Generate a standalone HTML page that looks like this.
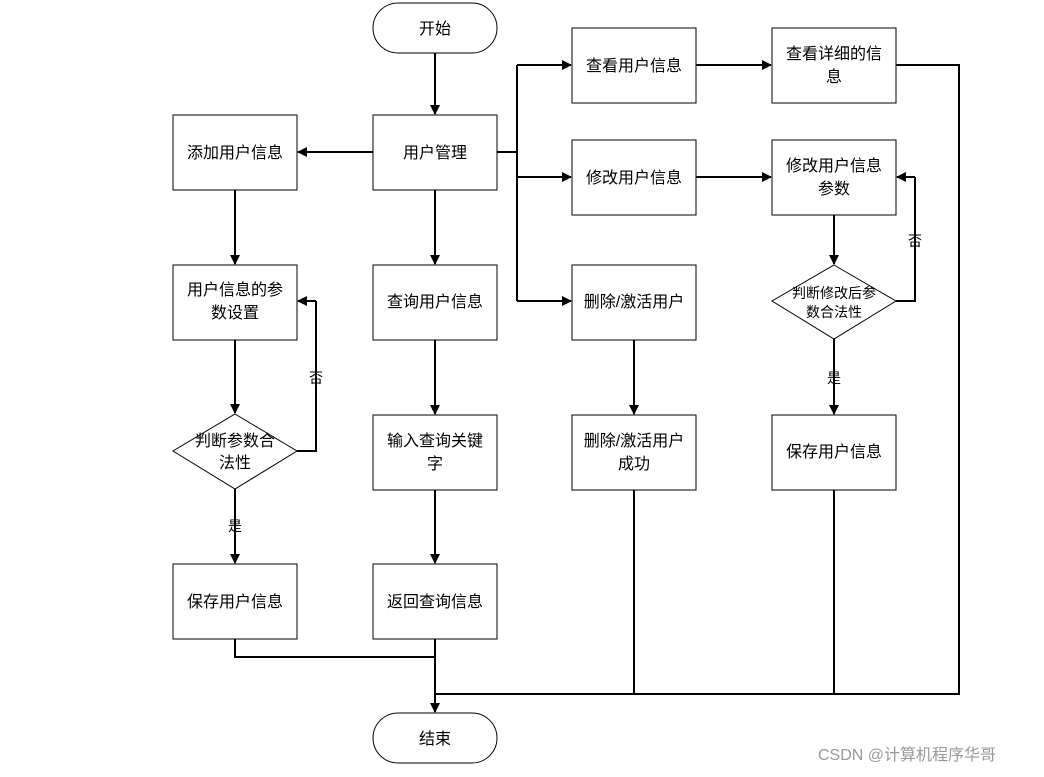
<!DOCTYPE html>
<html><head><meta charset="utf-8"><style>
body{margin:0;background:#fff;}
svg text{font-family:"Liberation Sans","Noto Sans CJK SC",sans-serif;font-size:16px;fill:#000;}
</style></head><body>
<svg width="1044" height="772" viewBox="0 0 1044 772" xmlns="http://www.w3.org/2000/svg">
<defs><marker id="a" markerWidth="10" markerHeight="10" refX="9" refY="5" orient="auto" markerUnits="userSpaceOnUse"><path d="M0,0 L10,5 L0,10 z" fill="#000"/></marker></defs>
<g fill="#fff" stroke="#000" stroke-width="1">
<rect x="373" y="3" width="124" height="50" rx="25"/>
<rect x="373" y="713" width="124" height="50" rx="25"/>
<rect x="173" y="115" width="124" height="75"/>
<rect x="373" y="115" width="124" height="75"/>
<rect x="572" y="28" width="124" height="75"/>
<rect x="772" y="28" width="124" height="75"/>
<rect x="572" y="140" width="124" height="75"/>
<rect x="772" y="140" width="124" height="75"/>
<rect x="173" y="265" width="124" height="75"/>
<rect x="373" y="265" width="124" height="75"/>
<rect x="572" y="265" width="124" height="75"/>
<polygon points="235,414 297,451 235,489 173,451"/>
<polygon points="834,265 896,301 834,339 772,301"/>
<rect x="373" y="415" width="124" height="75"/>
<rect x="572" y="415" width="124" height="75"/>
<rect x="772" y="415" width="124" height="75"/>
<rect x="173" y="564" width="124" height="75"/>
<rect x="373" y="564" width="124" height="75"/>
</g>
<g fill="none" stroke="#000" stroke-width="2">
<line x1="435" y1="53" x2="435" y2="114" marker-end="url(#a)"/>
<line x1="373" y1="152" x2="298" y2="152" marker-end="url(#a)"/>
<polyline points="497,152 517,152"/>
<polyline points="517,65 517,301"/>
<line x1="517" y1="65" x2="571" y2="65" marker-end="url(#a)"/>
<line x1="517" y1="177" x2="571" y2="177" marker-end="url(#a)"/>
<line x1="517" y1="301" x2="571" y2="301" marker-end="url(#a)"/>
<line x1="696" y1="65" x2="771" y2="65" marker-end="url(#a)"/>
<line x1="696" y1="177" x2="771" y2="177" marker-end="url(#a)"/>
<line x1="834" y1="215" x2="834" y2="264" marker-end="url(#a)"/>
<polyline points="896,301 915,301 915,177" />
<line x1="915" y1="177" x2="897" y2="177" marker-end="url(#a)"/>
<line x1="834" y1="339" x2="834" y2="414" marker-end="url(#a)"/>
<line x1="235" y1="190" x2="235" y2="264" marker-end="url(#a)"/>
<line x1="235" y1="340" x2="235" y2="413" marker-end="url(#a)"/>
<polyline points="297,451 316,451 316,301"/>
<line x1="316" y1="301" x2="298" y2="301" marker-end="url(#a)"/>
<line x1="235" y1="489" x2="235" y2="563" marker-end="url(#a)"/>
<line x1="435" y1="190" x2="435" y2="264" marker-end="url(#a)"/>
<line x1="435" y1="340" x2="435" y2="414" marker-end="url(#a)"/>
<line x1="435" y1="490" x2="435" y2="563" marker-end="url(#a)"/>
<line x1="634" y1="340" x2="634" y2="414" marker-end="url(#a)"/>
<line x1="435" y1="639" x2="435" y2="712" marker-end="url(#a)"/>
<polyline points="235,639 235,657 435,657"/>
<line x1="634" y1="490" x2="634" y2="694"/>
<line x1="834" y1="490" x2="834" y2="694"/>
<polyline points="896,65 959,65 959,694 435,694"/>
</g>
<g text-anchor="middle">
<text x="435" y="34">开始</text>
<text x="435" y="744">结束</text>
<text x="235" y="158">添加用户信息</text>
<text x="435" y="158">用户管理</text>
<text x="634" y="71">查看用户信息</text>
<text x="834" y="59">查看详细的信</text><text x="834" y="82">息</text>
<text x="634" y="183">修改用户信息</text>
<text x="834" y="171">修改用户信息</text><text x="834" y="194">参数</text>
<text x="235" y="295">用户信息的参</text><text x="235" y="318">数设置</text>
<text x="435" y="307">查询用户信息</text>
<text x="634" y="307">删除/激活用户</text>
<text x="834" y="298" style="font-size:14px">判断修改后参</text><text x="834" y="317" style="font-size:14px">数合法性</text>
<text x="235" y="446">判断参数合</text><text x="235" y="468">法性</text>
<text x="435" y="446">输入查询关键</text><text x="435" y="469">字</text>
<text x="634" y="446">删除/激活用户</text><text x="634" y="469">成功</text>
<text x="834" y="457">保存用户信息</text>
<text x="235" y="607">保存用户信息</text>
<text x="435" y="607">返回查询信息</text>
<text x="316" y="383" style="font-size:14px">否</text>
<text x="915" y="246" style="font-size:14px">否</text>
<text x="235" y="531" style="font-size:14px">是</text>
<text x="834" y="383" style="font-size:14px">是</text>
</g>
<text x="818" y="760" style="font-size:16px;fill:#999">CSDN @计算机程序华哥</text>
</svg>
</body></html>
